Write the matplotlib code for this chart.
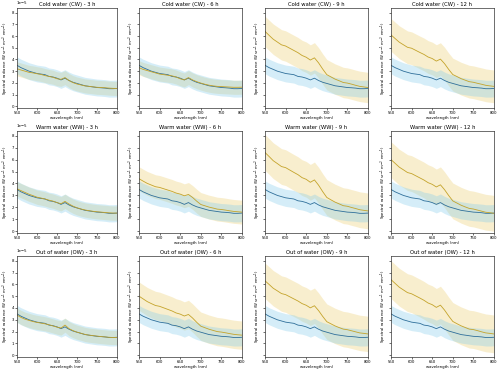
import numpy as np
import matplotlib
matplotlib.use("Agg")
import matplotlib.pyplot as plt

wavelength = [550, 560, 570, 580, 590, 600, 610, 620, 630, 640, 650, 660, 670,
              680, 690, 700, 710, 720, 730, 740, 750, 760, 770, 780, 790, 800]

# control (blue) mean, units of 1e-5 W sr^-1 m^-2 nm^-1
control_mean = [3.50, 3.30, 3.15, 3.00, 2.90, 2.80, 2.75, 2.70, 2.55, 2.50, 2.40, 2.25, 2.40,
                2.20, 2.05, 1.95, 1.85, 1.75, 1.70, 1.65, 1.60, 1.58, 1.55, 1.50, 1.50, 1.52]
control_std = 0.72

row_names = ["Cold water (CW)", "Warm water (WW)", "Out of water (OW)"]
times = ["3 h", "6 h", "9 h", "12 h"]

cw_3 = [3.20, 3.10, 3.00, 2.90, 2.85, 2.78, 2.72, 2.62, 2.55, 2.48, 2.35, 2.30, 2.45,
        2.20, 2.02, 1.90, 1.82, 1.74, 1.70, 1.66, 1.62, 1.60, 1.58, 1.55, 1.53, 1.52]
cw_6 = [3.30, 3.15, 3.05, 2.95, 2.85, 2.75, 2.70, 2.65, 2.60, 2.50, 2.35, 2.25, 2.45,
        2.25, 2.10, 1.98, 1.88, 1.80, 1.74, 1.70, 1.68, 1.66, 1.64, 1.62, 1.62, 1.63]
cw_9 = [6.40, 6.06, 5.73, 5.49, 5.25, 5.15, 4.96, 4.77, 4.58, 4.34, 4.19, 3.95, 4.14,
        3.71, 3.18, 2.70, 2.51, 2.32, 2.18, 2.03, 1.98, 1.89, 1.79, 1.70, 1.65, 1.60]
cw_12 = [6.10, 5.79, 5.48, 5.26, 5.04, 4.96, 4.78, 4.60, 4.43, 4.21, 4.08, 3.86, 4.03,
         3.64, 3.15, 2.71, 2.54, 2.36, 2.23, 2.10, 2.05, 1.96, 1.88, 1.79, 1.74, 1.70]

ww_3 = [3.55, 3.40, 3.25, 3.10, 2.98, 2.85, 2.78, 2.70, 2.60, 2.52, 2.40, 2.30, 2.50,
        2.28, 2.10, 1.96, 1.86, 1.78, 1.72, 1.67, 1.63, 1.60, 1.57, 1.54, 1.52, 1.52]
ww_6 = [4.40, 4.20, 4.01, 3.87, 3.73, 3.67, 3.56, 3.45, 3.34, 3.20, 3.11, 2.97, 3.08,
        2.83, 2.52, 2.24, 2.13, 2.02, 1.94, 1.85, 1.82, 1.77, 1.71, 1.66, 1.63, 1.60]
ww_9 = [6.60, 6.26, 5.91, 5.67, 5.42, 5.33, 5.13, 4.93, 4.74, 4.49, 4.35, 4.10, 4.30,
        3.86, 3.32, 2.83, 2.63, 2.44, 2.29, 2.14, 2.09, 1.99, 1.90, 1.80, 1.75, 1.70]
ww_12 = [6.00, 5.69, 5.37, 5.15, 4.92, 4.83, 4.65, 4.47, 4.29, 4.07, 3.93, 3.71, 3.89,
         3.48, 2.99, 2.54, 2.36, 2.18, 2.04, 1.91, 1.86, 1.77, 1.68, 1.59, 1.55, 1.50]

ow_3 = [3.40, 3.20, 3.05, 2.95, 2.85, 2.78, 2.72, 2.66, 2.58, 2.48, 2.38, 2.30, 2.55,
        2.25, 2.08, 1.95, 1.86, 1.76, 1.70, 1.66, 1.62, 1.58, 1.55, 1.52, 1.50, 1.50]
ow_6 = [5.00, 4.77, 4.54, 4.37, 4.21, 4.14, 4.01, 3.88, 3.75, 3.58, 3.48, 3.32, 3.45,
        3.15, 2.79, 2.46, 2.33, 2.20, 2.10, 2.00, 1.96, 1.90, 1.83, 1.77, 1.73, 1.70]
ow_9 = [6.30, 5.99, 5.67, 5.45, 5.22, 5.13, 4.95, 4.77, 4.59, 4.37, 4.23, 4.01, 4.19,
        3.78, 3.29, 2.84, 2.66, 2.48, 2.34, 2.21, 2.16, 2.07, 1.98, 1.89, 1.85, 1.80]
ow_12 = [6.40, 6.08, 5.76, 5.53, 5.30, 5.20, 5.02, 4.84, 4.65, 4.42, 4.28, 4.05, 4.24,
         3.82, 3.32, 2.86, 2.67, 2.49, 2.35, 2.21, 2.17, 2.08, 1.98, 1.89, 1.85, 1.80]

treated_means = [[cw_3, cw_6, cw_9, cw_12],
                 [ww_3, ww_6, ww_9, ww_12],
                 [ow_3, ow_6, ow_9, ow_12]]
treated_std = [[0.60, 0.60, 1.30, 1.40],
               [0.60, 1.00, 1.50, 1.50],
               [0.60, 1.20, 1.50, 1.60]]

scale = 1e-5
x_ticks = [550, 600, 650, 700, 750, 800]
y_ticks = [0, 1, 2, 3, 4, 5, 6, 7, 8]

blue_line = "#2f6f9a"
blue_fill = "#87ceeb"
gold_line = "#c4a32a"
gold_fill = "#ebc85e"

W, H = 500, 372
fig = plt.figure(figsize=(W / 100, H / 100), dpi=100)

col_left = [17, 139, 265, 391]
col_w = [100, 103, 103, 103]
row_top = [8, 131, 256]
row_h = [100, 102, 101]

x = np.array(wavelength)
cm = np.array(control_mean) * scale
cs = control_std * scale
first_ax = None
for r in range(3):
    for c in range(4):
        left = col_left[c] / W
        bottom = 1 - (row_top[r] + row_h[r]) / H
        ax = fig.add_axes([left, bottom, col_w[c] / W, row_h[r] / H],
                          sharey=first_ax)
        if first_ax is None:
            first_ax = ax
        tm = np.array(treated_means[r][c]) * scale
        ts = treated_std[r][c] * scale
        ax.fill_between(x, tm - ts, tm + ts, color=gold_fill, alpha=0.3, lw=0)
        ax.fill_between(x, cm - cs, cm + cs, color=blue_fill, alpha=0.35, lw=0)
        ax.plot(x, cm, color=blue_line, lw=0.6)
        ax.plot(x, tm, color=gold_line, lw=0.6)
        ax.set_xlim(550, 800)
        ax.set_ylim(-0.15 * scale, 8.4 * scale)
        ax.set_xticks(x_ticks)
        ax.set_yticks([v * scale for v in y_ticks])
        ax.tick_params(labelsize=2.8, length=1.2, width=0.4, pad=0.8)
        ax.yaxis.get_offset_text().set_fontsize(2.8)
        if c > 0:
            ax.tick_params(labelleft=False)
        for s in ax.spines.values():
            s.set_linewidth(0.5)
            s.set_color("#333333")
        ax.set_title(f"{row_names[r]} - {times[c]}", fontsize=3.8, pad=1.5)
        ax.set_xlabel("wavelength (nm)", fontsize=2.8, labelpad=0.8)
        ax.set_ylabel("Spectral radiance (W sr$^{-1}$ m$^{-2}$ nm$^{-1}$)",
                      fontsize=2.8, labelpad=0.5)

fig.savefig("out.png", dpi=100)
